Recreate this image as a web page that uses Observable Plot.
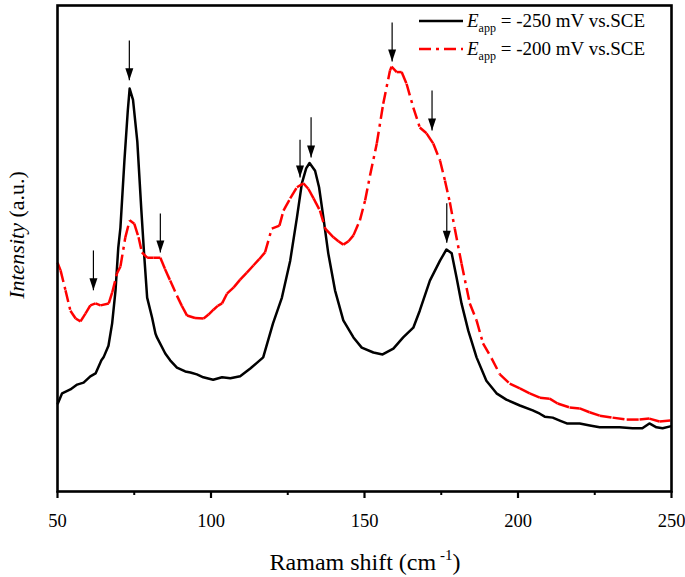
<!DOCTYPE html>
<html><head><meta charset="utf-8">
<script src="https://cdn.jsdelivr.net/npm/d3@7"></script>
<script src="https://cdn.jsdelivr.net/npm/@observablehq/plot@0.6"></script>
<style>
body{margin:0;background:#fff}
#chart svg, #chart svg text, #chart svg tspan{font-family:"Liberation Serif","DejaVu Serif",serif !important}
</style>
</head><body><div id="chart"></div>
<script>
// Raman shift (cm-1) and intensity (a.u.) for Eapp = -250 mV vs.SCE (black)
const shift250 = [50.1,51.5,54.2,56.4,58.5,60.7,62.4,64.3,65.0,66.6,67.8,68.9,69.8,70.5,71.8,72.9,73.5,74.6,76.0,77.3,78.2,79.2,80.8,81.9,82.4,85.1,86.7,88.9,91.6,93.3,95.4,97.5,100.7,103.6,106.3,109.5,112.8,117.0,120.2,123.1,125.8,128.0,129.6,131.0,132.1,133.9,135.2,136.6,138.2,140.4,143.1,146.4,149.1,152.9,155.9,159.4,162.6,165.9,168.0,171.3,174.6,176.7,178.4,180.0,181.6,183.8,186.5,189.7,193.0,196.2,200.6,204.8,207.1,208.7,211.3,213.6,215.9,220.1,223.4,226.6,229.8,233.1,237.3,240.5,242.8,245.1,247.1,249.6];
const int250 = [18.1,20.2,21.0,22.0,22.4,23.7,24.3,27.0,27.6,30.0,34.6,41.4,50.2,54.3,68.1,78.4,82.9,80.6,72.0,58.0,49.0,39.9,35.8,32.5,31.7,28.4,27.0,25.5,24.7,24.5,24.1,23.5,23.0,23.5,23.3,23.7,25.3,27.6,34.6,39.9,47.5,56.4,63.4,66.5,67.6,66.0,62.6,56.4,49.0,41.4,35.2,31.7,29.6,28.6,28.2,29.4,31.7,33.7,37.2,43.4,47.5,49.8,49.0,44.0,38.7,33.1,27.6,22.8,20.2,18.9,17.7,16.7,16.0,15.4,15.2,14.6,14.0,14.0,13.6,13.2,13.2,13.2,13.0,13.0,14.0,13.2,13.0,13.4];

// Raman shift (cm-1) and intensity (a.u.) for Eapp = -200 mV vs.SCE (red)
const shift200 = [50.0,51.0,52.6,54.2,55.9,57.5,59.1,60.7,62.4,64.0,66.7,67.8,69.4,70.5,72.1,73.5,75.0,76.4,77.5,79.2,81.3,83.5,85.0,86.7,88.9,90.5,92.2,94.8,97.6,99.2,100.8,102.2,103.6,105.2,107.4,109.5,111.6,113.8,115.7,117.6,119.8,122.3,123.6,125.8,128.0,130.1,131.7,133.4,135.5,137.2,139.9,141.5,143.1,144.8,146.4,148.5,150.2,151.8,154.0,156.1,158.3,158.8,160.5,162.1,163.7,165.9,168.0,170.2,172.4,174.6,176.2,177.8,179.4,181.6,184.3,186.5,188.6,191.4,194.1,197.3,200.6,203.8,207.1,210.3,212.9,216.8,220.1,223.3,226.6,230.8,235.4,239.6,242.8,246.1,249.6];
const int200 = [47.1,45.5,41.4,37.2,35.6,35.0,36.6,38.3,38.7,38.3,38.7,40.9,44.9,46.3,52.3,55.8,55.1,52.3,49.2,48.1,48.1,48.1,45.8,43.4,40.3,38.2,36.2,35.7,35.6,36.4,37.4,38.2,38.7,40.7,42.0,43.6,45.0,46.5,47.8,49.2,54.1,54.7,57.8,60.3,62.6,63.4,62.3,60.3,57.8,54.1,52.3,51.5,50.8,51.5,52.7,55.8,59.9,65.0,71.6,79.8,86.6,87.4,86.3,86.3,83.9,79.0,74.9,73.7,71.6,68.1,64.0,59.5,54.1,46.9,38.7,35.2,30.5,27.4,24.1,22.2,21.2,20.2,19.3,19.1,18.1,17.3,17.1,16.3,15.6,15.2,14.8,14.8,15.0,14.4,14.6];

// peak markers: shift, top and tip intensity of each arrow
const arrowX   = [61.7, 73.4, 83.5, 129.0, 132.6, 159.0, 172.0, 176.8];
const arrowTop = [49.6, 92.8, 57.2, 72.4, 77.0, 96.5, 82.5, 59.3];
const arrowTip = [41.4, 84.6, 49.2, 64.6, 68.7, 88.5, 74.3, 51.2];

const xTicks = [50, 100, 150, 200, 250];
const xMinorTicks = [75, 125, 175, 225];
const seriesLabels = ["= -250 mV vs.SCE", "= -200 mV vs.SCE"];
const seriesColors = ["#000000", "#ff0000"];

const black = shift250.map((x, i) => ({x, y: int250[i]}));
const red = shift200.map((x, i) => ({x, y: int200[i]}));
const redSegs = d3.pairs(red).map(([a, b]) => ({x1: a.x, y1: a.y, x2: b.x, y2: b.y}));
const arrows = arrowX.map((x, i) => ({x, top: arrowTop[i], tip: arrowTip[i]}));

const head = {draw(ctx) { ctx.moveTo(0, 0); ctx.lineTo(-4, -12); ctx.lineTo(4, -12); ctx.closePath(); }};
const SERIF = '"Liberation Serif","DejaVu Serif",serif';

const W = 685, H = 577;
const plot = Plot.plot({
  width: W, height: H,
  marginLeft: 57, marginRight: 14, marginTop: 5, marginBottom: 86,
  style: {fontFamily: SERIF, background: "#fff"},
  x: {domain: [50, 250]},
  y: {domain: [0, 100], axis: null},
  marks: [
    Plot.axisX(xMinorTicks, {tickSize: 4, strokeWidth: 2, tickFormat: () => "", label: null}),
    Plot.axisX(xTicks, {tickSize: 7, strokeWidth: 2.2, tickPadding: 15, fontSize: 18.5, label: null, color: "#000", fontFamily: SERIF}),
    Plot.line(black, {x: "x", y: "y", stroke: "#000", strokeWidth: 2.5, strokeLinejoin: "round"}),
    Plot.link(redSegs, {x1: "x1", y1: "y1", x2: "x2", y2: "y2", stroke: "#ff0000", strokeWidth: 2.5, strokeDasharray: "12,5,3,5"}),
    Plot.link(arrows, {x1: "x", x2: "x", y1: "top", y2: "tip", stroke: "#000", strokeWidth: 1.2}),
    Plot.dot(arrows, {x: "x", y: "tip", symbol: head, fill: "#000", stroke: null}),
    Plot.frame({stroke: "#000", strokeWidth: 2.6})
  ]
});
document.getElementById("chart").appendChild(plot);

const svg = d3.select(plot);
// x axis title
const xt = svg.append("text").attr("x", 365).attr("y", 570).attr("text-anchor", "middle")
  .attr("font-family", SERIF).attr("font-size", 24).attr("fill", "#000");
xt.append("tspan").text("Ramam shift (cm");
xt.append("tspan").attr("font-size", 15).attr("dy", -10).text(" -1");
xt.append("tspan").attr("dy", 10).text(")");
// y axis title
const yt = svg.append("text").attr("transform", "translate(24,235) rotate(-90)")
  .attr("text-anchor", "middle").attr("font-family", SERIF).attr("font-size", 22).attr("fill", "#000");
yt.append("tspan").attr("font-style", "italic").text("Intensity");
yt.append("tspan").text(" (a.u.)");
// legend
seriesLabels.forEach((lab, i) => {
  const y = 21 + i * 28;
  svg.append("line").attr("x1", 419).attr("x2", 463).attr("y1", y).attr("y2", y)
    .attr("stroke", seriesColors[i]).attr("stroke-width", 2.4)
    .attr("stroke-dasharray", i ? "12,5,3,5" : null);
  const t = svg.append("text").attr("x", 467).attr("y", y + 6).attr("text-anchor", "start")
    .attr("font-family", SERIF).attr("font-size", 19).attr("fill", "#000");
  t.append("tspan").attr("font-style", "italic").text("E");
  t.append("tspan").attr("font-size", 12).attr("dy", 5).text("app");
  t.append("tspan").attr("dy", -5).text(" " + lab);
});
</script>
</body></html>
